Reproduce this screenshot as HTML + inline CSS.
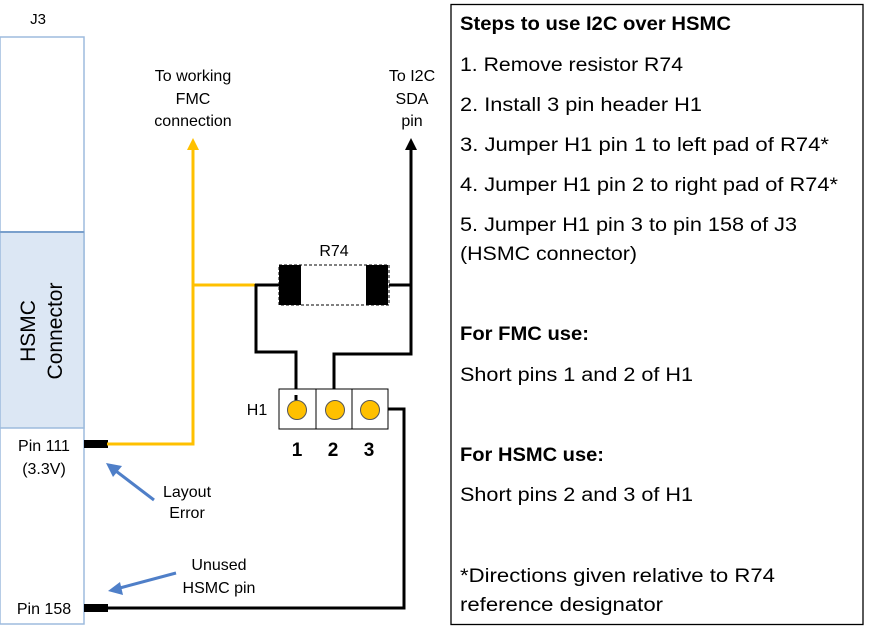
<!DOCTYPE html>
<html><head><meta charset="utf-8"><style>
html,body{margin:0;padding:0;background:#fff;}
svg{display:block;}
text{font-family:"Liberation Sans",sans-serif;}
</style></head><body>
<svg width="871" height="632" viewBox="0 0 871 632" xmlns="http://www.w3.org/2000/svg">
<!-- J3 connector -->
<text x="38" y="24" font-size="15" text-anchor="middle">J3</text>
<rect x="0" y="37" width="84" height="587" fill="#fff" stroke="#9dbbdd" stroke-width="1.5"/>
<rect x="0" y="232" width="84" height="196" fill="#dce7f4" stroke="#9dbbdd" stroke-width="1.5"/>
<line x1="0" y1="232" x2="84" y2="232" stroke="#7aa0cc" stroke-width="2"/>
<text transform="translate(40,331) rotate(-90)" font-size="21" text-anchor="middle"><tspan x="0" y="-5">HSMC</tspan><tspan x="0" y="22">Connector</tspan></text>
<text x="44" y="451" font-size="16" text-anchor="middle">Pin 111</text>
<text x="44" y="474" font-size="16" text-anchor="middle">(3.3V)</text>
<text x="44" y="614" font-size="16" text-anchor="middle">Pin 158</text>
<!-- pin stubs -->
<rect x="84" y="440" width="24" height="8" fill="#000"/>
<rect x="84" y="604" width="24" height="8" fill="#000"/>
<!-- yellow net -->
<polyline points="107,444 193,444 193,148" fill="none" stroke="#ffc000" stroke-width="3"/>
<path d="M187,150 L193,138 L199,150 Z" fill="#ffc000"/>
<line x1="193" y1="285" x2="256" y2="285" stroke="#ffc000" stroke-width="3"/>
<!-- black nets -->
<polyline points="255,285 280,285" fill="none" stroke="#000" stroke-width="3"/>
<polyline points="256,284 256,352 296,352 296,404" fill="none" stroke="#000" stroke-width="3"/>
<polyline points="389,285 411,285" fill="none" stroke="#000" stroke-width="3"/>
<polyline points="411,150 411,354 334,354 334,404" fill="none" stroke="#000" stroke-width="3"/>
<path d="M405,150 L411,138 L417,150 Z" fill="#000"/>
<polyline points="372,409 404,409 404,608 107,608" fill="none" stroke="#000" stroke-width="3"/>
<!-- R74 -->
<text x="334" y="256" font-size="16" text-anchor="middle">R74</text>
<rect x="279" y="265" width="110" height="40" fill="#fff" stroke="#000" stroke-width="1" stroke-dasharray="3,2"/>
<rect x="279" y="265" width="22" height="40" fill="#000"/>
<rect x="366" y="265" width="22" height="40" fill="#000"/>
<!-- H1 -->
<text x="257" y="415" font-size="16" text-anchor="middle">H1</text>
<rect x="279" y="389" width="109" height="40" fill="#fff" stroke="#000" stroke-width="1"/>
<line x1="316" y1="389" x2="316" y2="429" stroke="#000"/>
<line x1="352" y1="389" x2="352" y2="429" stroke="#000"/>
<line x1="296" y1="395" x2="296" y2="404" stroke="#000" stroke-width="3"/>
<circle cx="297" cy="410" r="9.5" fill="#ffc000" stroke="#555" stroke-width="1"/>
<circle cx="335" cy="410" r="9.5" fill="#ffc000" stroke="#555" stroke-width="1"/>
<circle cx="370" cy="410" r="9.5" fill="#ffc000" stroke="#555" stroke-width="1"/>
<text x="297" y="456" font-size="19" font-weight="bold" text-anchor="middle">1</text>
<text x="333" y="456" font-size="19" font-weight="bold" text-anchor="middle">2</text>
<text x="369" y="456" font-size="19" font-weight="bold" text-anchor="middle">3</text>
<!-- labels top -->
<g font-size="16" text-anchor="middle">
<text x="193" y="81">To working</text>
<text x="193" y="104">FMC</text>
<text x="193" y="126">connection</text>
<text x="412" y="81">To I2C</text>
<text x="412" y="104">SDA</text>
<text x="412" y="126">pin</text>
<text x="187" y="497">Layout</text>
<text x="187" y="518">Error</text>
<text x="219" y="570">Unused</text>
<text x="219" y="593">HSMC pin</text>
</g>
<!-- blue arrows -->
<g stroke="#4f7fc8" stroke-width="3" fill="#4f7fc8">
<line x1="154" y1="500" x2="112" y2="468"/>
<line x1="176" y1="573" x2="116" y2="589"/>
</g>
<path d="M106,463 L122,466 L113,477 Z" fill="#4f7fc8"/>
<path d="M108,591 L120,582 L123,595 Z" fill="#4f7fc8"/>
<!-- right box -->
<rect x="451" y="4.5" width="412" height="620" fill="#fff" stroke="#000" stroke-width="1.3"/>
<g font-size="19">
<text x="460" y="30" font-weight="bold" textLength="271" lengthAdjust="spacingAndGlyphs">Steps to use I2C over HSMC</text>
<text x="460" y="71" textLength="223" lengthAdjust="spacingAndGlyphs">1. Remove resistor R74</text>
<text x="460" y="111" textLength="242" lengthAdjust="spacingAndGlyphs">2. Install 3 pin header H1</text>
<text x="460" y="151" textLength="369" lengthAdjust="spacingAndGlyphs">3. Jumper H1 pin 1 to left pad of R74*</text>
<text x="460" y="191" textLength="378" lengthAdjust="spacingAndGlyphs">4. Jumper H1 pin 2 to right pad of R74*</text>
<text x="460" y="231" textLength="337" lengthAdjust="spacingAndGlyphs">5. Jumper H1 pin 3 to pin 158 of J3</text>
<text x="460" y="260" textLength="177" lengthAdjust="spacingAndGlyphs">(HSMC connector)</text>
<text x="460" y="340" font-weight="bold" textLength="129" lengthAdjust="spacingAndGlyphs">For FMC use:</text>
<text x="460" y="381" textLength="233" lengthAdjust="spacingAndGlyphs">Short pins 1 and 2 of H1</text>
<text x="460" y="461" font-weight="bold" textLength="144" lengthAdjust="spacingAndGlyphs">For HSMC use:</text>
<text x="460" y="501" textLength="233" lengthAdjust="spacingAndGlyphs">Short pins 2 and 3 of H1</text>
<text x="460" y="582" textLength="315" lengthAdjust="spacingAndGlyphs">*Directions given relative to R74</text>
<text x="460" y="611" textLength="203" lengthAdjust="spacingAndGlyphs">reference designator</text>
</g>
</svg>
</body></html>
